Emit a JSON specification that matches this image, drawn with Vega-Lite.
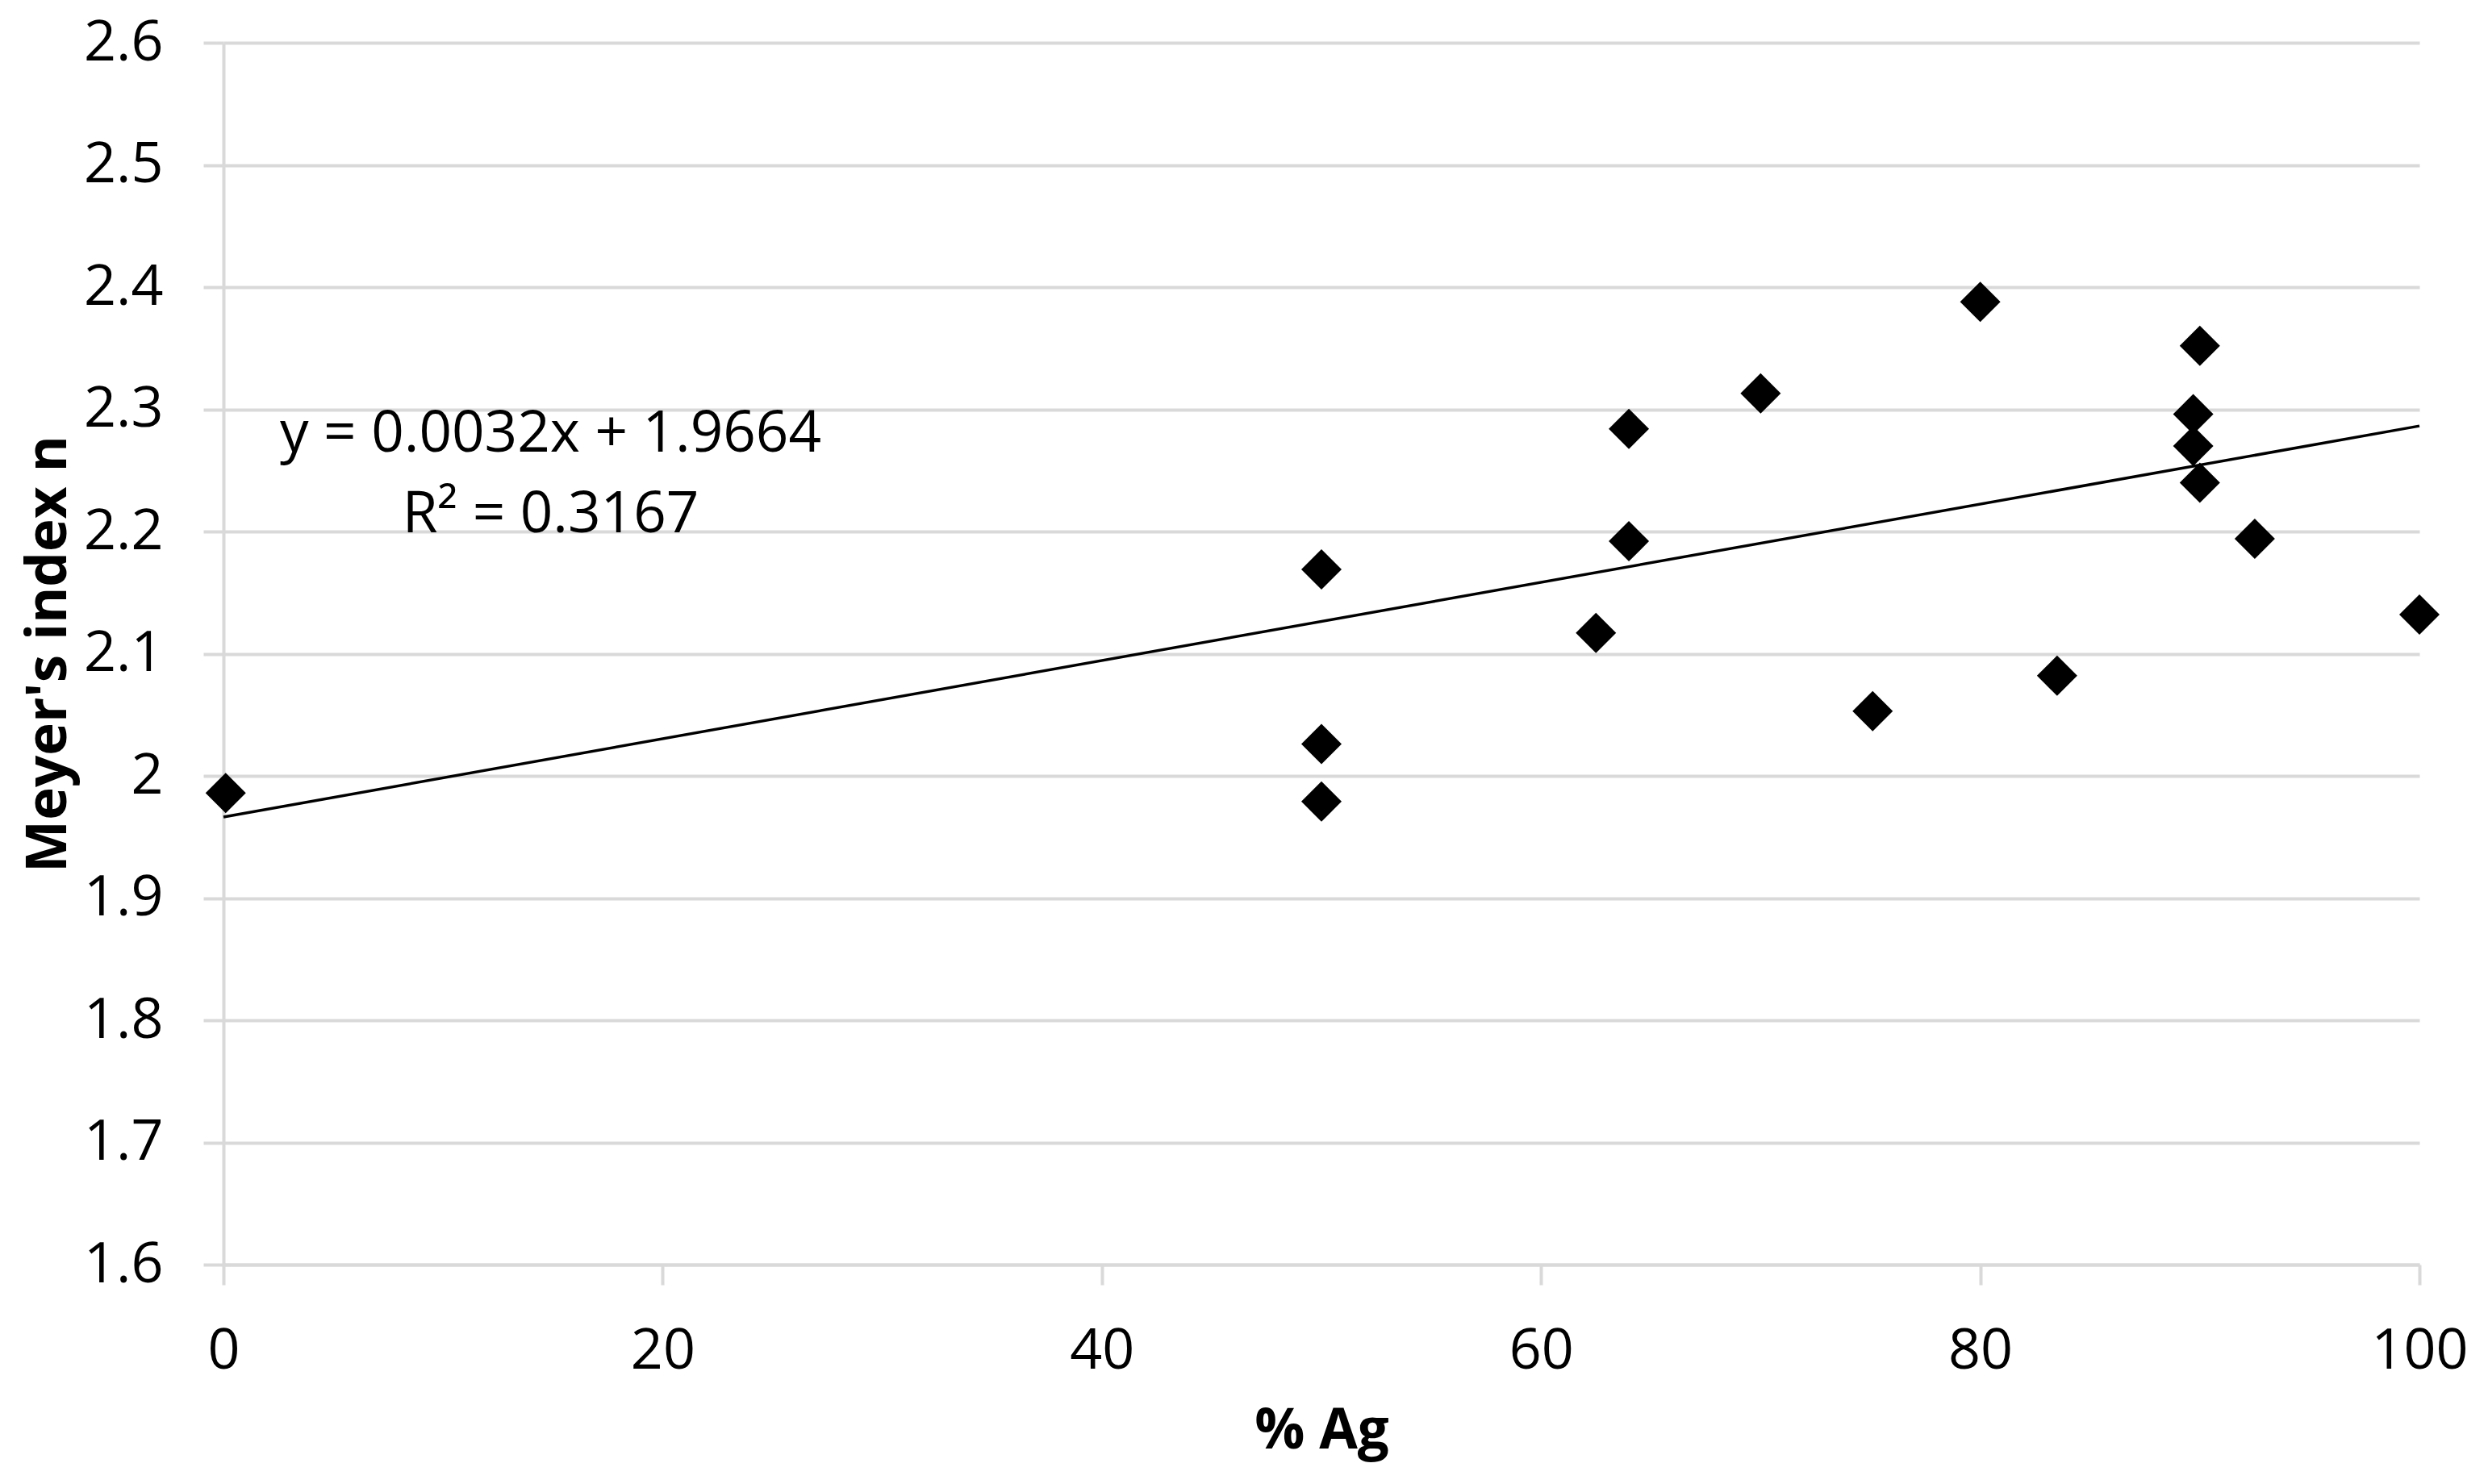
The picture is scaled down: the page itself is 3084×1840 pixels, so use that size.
{
  "$schema": "https://vega.github.io/schema/vega-lite/v6.json",
  "width": 2722,
  "height": 1515,
  "autosize": {"type": "none"},
  "padding": {"left": 277, "top": 53, "right": 85, "bottom": 272},
  "background": "white",
  "config": {
    "view": {"stroke": null},
    "font": "Open Sans",
    "axis": {
      "labelFont": "Open Sans",
      "labelFontSize": 70,
      "labelColor": "#000000",
      "titleFont": "Open Sans",
      "titleFontSize": 69,
      "titleFontWeight": "bold",
      "titleColor": "#000000",
      "domainColor": "#d9d9d9",
      "domainWidth": 4,
      "tickColor": "#d9d9d9",
      "tickWidth": 4,
      "tickSize": 25,
      "gridColor": "#d9d9d9",
      "gridWidth": 4
    }
  },
  "datasets": {
    "points": [
      {"ag": 0.1, "n": 1.986},
      {"ag": 50, "n": 2.169},
      {"ag": 50, "n": 2.026},
      {"ag": 50, "n": 1.979},
      {"ag": 62.5, "n": 2.117},
      {"ag": 64, "n": 2.284},
      {"ag": 64, "n": 2.192},
      {"ag": 70, "n": 2.313},
      {"ag": 75.1, "n": 2.053},
      {"ag": 80, "n": 2.388},
      {"ag": 83.5, "n": 2.082},
      {"ag": 90, "n": 2.352},
      {"ag": 89.7, "n": 2.296},
      {"ag": 89.7, "n": 2.27},
      {"ag": 90, "n": 2.24},
      {"ag": 92.5, "n": 2.194},
      {"ag": 100, "n": 2.132}
    ],
    "trend": [
      {"ag": 0, "n": 1.9664},
      {"ag": 100, "n": 2.2864}
    ],
    "labels": [
      {"ag": 14.9, "n": 2.279, "text": "y = 0.0032x + 1.9664"},
      {"ag": 14.9, "n": 2.213, "text": "R² = 0.3167"}
    ]
  },
  "layer": [
    {
      "data": {"name": "points"},
      "mark": {"type": "point", "shape": "diamond", "filled": true, "color": "#000000", "opacity": 1, "size": 2500, "strokeWidth": 0},
      "encoding": {
        "x": {
          "field": "ag", "type": "quantitative",
          "scale": {"domain": [0, 100], "nice": false, "zero": false},
          "axis": {"title": "% Ag", "values": [0, 20, 40, 60, 80, 100], "grid": false, "labelPadding": 48, "titlePadding": 30, "labelFlush": false}
        },
        "y": {
          "field": "n", "type": "quantitative",
          "scale": {"domain": [1.6, 2.6], "nice": false, "zero": false},
          "axis": {"title": "Meyer's index n", "values": [1.6, 1.7, 1.8, 1.9, 2.0, 2.1, 2.2, 2.3, 2.4, 2.5, 2.6], "format": ".1~f", "grid": true, "labelPadding": 50, "titlePadding": 8, "labelFlush": false}
        }
      }
    },
    {
      "data": {"name": "trend"},
      "mark": {"type": "line", "color": "#000000", "strokeWidth": 3.5},
      "encoding": {
        "x": {"field": "ag", "type": "quantitative"},
        "y": {"field": "n", "type": "quantitative"}
      }
    },
    {
      "data": {"name": "labels"},
      "mark": {"type": "text", "font": "Open Sans", "fontSize": 71, "color": "#000000", "align": "center", "baseline": "middle"},
      "encoding": {
        "x": {"field": "ag", "type": "quantitative"},
        "y": {"field": "n", "type": "quantitative"},
        "text": {"field": "text", "type": "nominal"}
      }
    }
  ]
}
